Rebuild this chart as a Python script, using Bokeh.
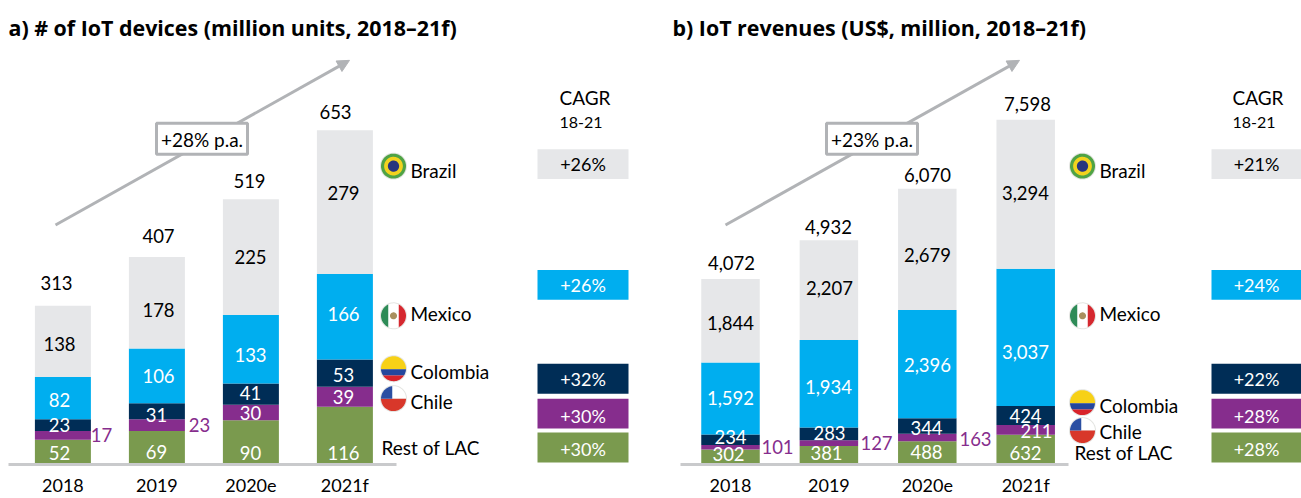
import numpy as np
from bokeh.core.properties import value
from bokeh.embed import file_html
from bokeh.layouts import row
from bokeh.models import Arrow, ColumnDataSource, FixedTicker, NormalHead, Range1d
from bokeh.plotting import figure
from bokeh.resources import INLINE

# ---- data ----
years = ["2018", "2019", "2020e", "2021f"]
series = ["Rest of LAC", "Chile", "Colombia", "Mexico", "Brazil"]

dev_rest = [52, 69, 90, 116]
dev_chile = [17, 23, 30, 39]
dev_colombia = [23, 31, 41, 53]
dev_mexico = [82, 106, 133, 166]
dev_brazil = [138, 178, 225, 279]
dev_total = [313, 407, 519, 653]
dev_cagr = ["+26%", "+26%", "+32%", "+30%", "+30%"]   # Brazil..Rest
dev_growth = "+28% p.a."

rev_rest = [302, 381, 488, 632]
rev_chile = [101, 127, 163, 211]
rev_colombia = [234, 283, 344, 424]
rev_mexico = [1592, 1934, 2396, 3037]
rev_brazil = [1844, 2207, 2679, 3294]
rev_total = [4072, 4932, 6070, 7598]
rev_cagr = ["+21%", "+24%", "+22%", "+28%", "+28%"]
rev_growth = "+23% p.a."

title_a = "a) # of IoT devices (million units, 2018\u201321f)"
title_b = "b) IoT revenues (US$, million, 2018\u201321f)"

# ---- style ----
GRAY, BLUE, NAVY, PURPLE, GREEN = "#E6E7E9", "#00AEEF", "#002D56", "#862D8D", "#7A9A4E"
colors = [GREEN, PURPLE, NAVY, BLUE, GRAY]
LINE = "#B1B3B6"
FONT = "Lato"
TITLE_FONT = "Open Sans"
FS = "18.5px"


def panel(page_x0, page_x1, x0, dx, bar_w, base, scale, stacks, totals, cagr, growth, title, lay):
    """page px -> data through two small helpers; the marks go through the scales."""
    X = lambda px: (px - x0) / dx
    Y = lambda py: (base - py) / scale

    p = figure(width=page_x1 - page_x0, height=498, output_backend="svg", toolbar_location=None,
               x_range=Range1d(X(page_x0), X(page_x1)), y_range=Range1d(Y(465), Y(0)),
               min_border_left=0, min_border_right=0, min_border_top=0, min_border_bottom=0,
               y_axis_location=None, outline_line_color=None, background_fill_color=None,
               border_fill_color="white")
    p.grid.visible = False

    ax = p.xaxis[0]
    ax.ticker = FixedTicker(ticks=list(range(len(years))))
    ax.major_label_overrides = {i: y for i, y in enumerate(years)}
    ax.major_tick_line_color = None
    ax.minor_tick_line_color = None
    ax.axis_line_color = "#C9CACC"
    ax.axis_line_width = 3
    ax.bounds = (X(lay["axis"][0]), X(lay["axis"][1]))
    ax.major_label_text_font = FONT
    ax.major_label_text_font_size = "18px"
    ax.major_label_text_color = "black"
    ax.major_label_standoff = 3

    data = {"x": list(range(len(years)))}
    data.update({s: v for s, v in zip(series, stacks)})
    p.vbar_stack(series, x="x", width=bar_w / dx, source=ColumnDataSource(data), color=colors, line_color=None)

    def txt(px, py, s, color="black", size=FS, align="center", font=FONT, style="normal"):
        p.text(x=[X(px)], y=[Y(py)], text=[s], text_font=value(font), text_font_size=value(size),
               text_color=color, text_align=align, text_baseline="middle", text_font_style=style)

    # value labels
    for s_i, (vals, ys, xs, col) in enumerate(zip(stacks, lay["lab_y"], lay["lab_x"], lay["lab_c"])):
        for j, v in enumerate(vals):
            c = col[j] if isinstance(col, list) else col
            txt(xs[j], ys[j], f"{v:,}", c)
    for j, v in enumerate(totals):
        txt(lay["tot_x"][j], lay["tot_y"][j], f"{v:,}")

    # growth arrow and its box
    (ax0, ay0), (ax1, ay1) = lay["arrow"]
    p.add_layout(Arrow(end=NormalHead(size=12, fill_color=LINE, line_color=LINE), x_start=X(ax0), y_start=Y(ay0),
                       x_end=X(ax1), y_end=Y(ay1), line_color=LINE, line_width=3, level="underlay"))
    bx0, bx1 = lay["box_x"]
    p.quad(left=[X(bx0)], right=[X(bx1)], bottom=[Y(154)], top=[Y(123)], fill_color="white",
           line_color=LINE, line_width=3)
    txt((bx0 + bx1) / 2, 139, growth, size="19px")

    # flags
    def seg(cx, cy, r, top, bot, color, left=-1, right=1):
        t = np.linspace(0, 2 * np.pi, 80)
        xs = np.clip(cx + r * np.cos(t), cx + left * r, cx + right * r)
        ys = np.clip(cy + r * np.sin(t), cy + top * r, cy + bot * r)
        p.patch(X(xs), Y(ys), fill_color=color, line_color=None)

    def flag(name, cx, cy, r=12.5):
        seg(cx, cy, r + 1, -1, 1, "#E4E5E2")
        if name == "Brazil":
            seg(cx, cy, r, -1, 1, "#4FA345")
            seg(cx, cy, r * 0.75, -1, 1, "#F2D21F")
            seg(cx, cy, r * 0.45, -1, 1, "#27357E")
        elif name == "Mexico":
            seg(cx, cy, r, -1, 1, "#FFFFFF")
            seg(cx, cy, r, -1, 1, "#2E8B57", right=-0.42)
            seg(cx, cy, r, -1, 1, "#D5282F", left=0.42)
            seg(cx, cy, r * 0.28, -1, 1, "#A98F5E")
        elif name == "Colombia":
            seg(cx, cy, r, -1, 0.05, "#F7D117")
            seg(cx, cy, r, 0.05, 0.55, "#24479D")
            seg(cx, cy, r, 0.55, 1, "#D8232A")
        elif name == "Chile":
            seg(cx, cy, r, -1, 0, "#FFFFFF")
            seg(cx, cy, r, 0, 1, "#D8372A")
            seg(cx, cy, r, -1, 0, "#2B4FA2", right=-0.1)

    for name, fy, ty in lay["legend"]:
        flag(name, lay["flag_x"], fy)
        txt(lay["flag_x"] + 17, ty, name, align="left", size="19px")
    txt(lay["rest"][0], lay["rest"][1], "Rest of LAC", align="left", size="19px")

    # CAGR column
    cx0, cx1 = lay["cagr_x"]
    tops = [149, 270, 364, 399, 433]
    lab_y = [164, 285, 379, 416, 449]
    cols = [GRAY, BLUE, NAVY, PURPLE, GREEN]
    for t, ly, col, s in zip(tops, lab_y, cols, cagr):
        p.quad(left=[X(cx0)], right=[X(cx1)], top=[Y(t)], bottom=[Y(t + 30)], fill_color=col, line_color=None)
        txt((cx0 + cx1) / 2, ly, s, "black" if col == GRAY else "white", size="18px")
    txt(lay["cagr_head"], 97, "CAGR", size="19px", align="left")
    txt(lay["cagr_head"], 122, "18-21", size="16px", align="left")

    # title
    txt(lay["title_x"], 27, title, size="21.4px", align="left", font=TITLE_FONT, style="bold")
    return p


W, K = "white", "black"
lay_a = dict(
    axis=(8, 396),
    lab_y=[[453, 452, 453, 453], [435, 425, 413, 397], [425, 415, 393, 375], [400, 376, 355, 314], [344, 310, 257, 193]],
    lab_x=[[59, 156, 250, 343], [101, 199, 250, 343], [59, 156, 250, 343], [59, 158, 250, 343], [59, 158, 250, 343]],
    lab_c=[W, [PURPLE, PURPLE, W, W], W, W, K],
    tot_x=[56, 158, 249, 335], tot_y=[283, 236, 181, 112],
    arrow=((55, 225), (349, 60)), box_x=(156, 247),
    legend=[("Brazil", 166, 170), ("Mexico", 316, 314), ("Colombia", 369, 372), ("Chile", 399, 402)],
    flag_x=393, rest=(381, 448), cagr_x=(537, 628), cagr_head=559, title_x=8,
)
lay_b = dict(
    axis=(680, 1068),
    lab_y=[[454, 453, 452, 453], [447, 443, 439, 431], [437, 433, 428, 416], [398, 387, 365, 352], [323, 288, 255, 193]],
    lab_x=[[728, 826, 926, 1025], [777, 876, 975, 1036], [730, 829, 926, 1025], [730, 828, 927, 1025], [730, 829, 927, 1025]],
    lab_c=[W, [PURPLE, PURPLE, PURPLE, W], W, W, K],
    tot_x=[731, 828, 927, 1027], tot_y=[263, 227, 175, 104],
    arrow=((725, 225), (1019, 60)), box_x=(826, 917),
    legend=[("Brazil", 166, 170), ("Mexico", 316, 314), ("Colombia", 403, 406), ("Chile", 431, 432)],
    flag_x=1082, rest=(1074, 453), cagr_x=(1211, 1301), cagr_head=1232, title_x=672,
)

left = panel(0, 660, 62.4, 94, 56, 467, 0.516,
             [dev_rest, dev_chile, dev_colombia, dev_mexico, dev_brazil], dev_total, dev_cagr, dev_growth, title_a, lay_a)
right = panel(660, 1301, 730, 98.4, 58.5, 463.7, 0.0453,
              [rev_rest, rev_chile, rev_colombia, rev_mexico, rev_brazil], rev_total, rev_cagr, rev_growth, title_b, lay_b)

root = row(left, right, spacing=0)
open("out.html", "w").write(file_html(root, INLINE))
